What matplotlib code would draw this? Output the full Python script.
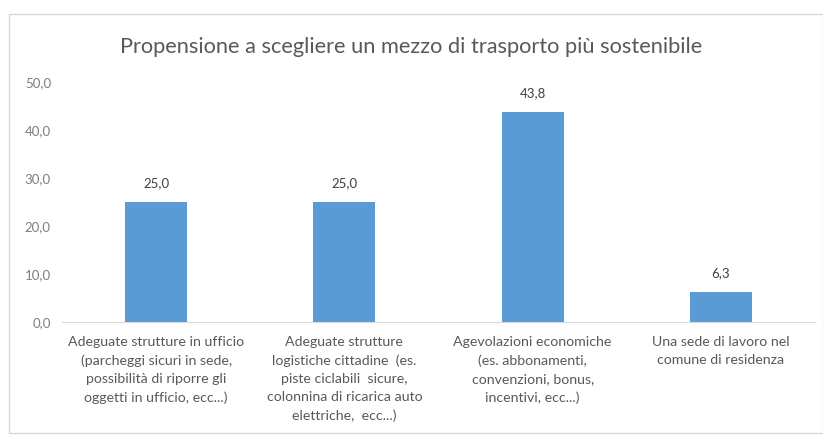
import matplotlib
matplotlib.use("Agg")
import matplotlib.pyplot as plt
from matplotlib.patches import Rectangle

categories = [
    "Adeguate strutture in ufficio\n(parcheggi sicuri in sede,\npossibilità di riporre gli\noggetti in ufficio, ecc...)",
    "Adeguate strutture\nlogistiche cittadine  (es.\npiste ciclabili  sicure,\ncolonnina di ricarica auto\nelettriche,  ecc...)",
    "Agevolazioni economiche\n(es. abbonamenti,\nconvenzioni, bonus,\nincentivi, ecc...)",
    "Una sede di lavoro nel\ncomune di residenza",
]
values = [25.0, 25.0, 43.8, 6.3]
yticks = [0, 10, 20, 30, 40, 50]
title = "Propensione a scegliere un mezzo di trasporto più sostenibile"

plt.rcParams['font.family'] = ['Lato', 'DejaVu Sans']
W, H = 823, 437
fig = plt.figure(figsize=(W/100, H/100), dpi=100)
fig.patch.set_facecolor('white')

# outer chart border
fig.add_artist(Rectangle((9/W, 1-433/H), (W-9)/W, (433-14)/H, transform=fig.transFigure,
                         fill=False, edgecolor='#d9d9d9', linewidth=1))

ax = fig.add_axes([62/W, 1-322/H, (815-62)/W, (322-82)/H])
x = range(len(values))
bars = ax.bar(x, values, width=0.33, color='#5b9bd5')
ax.set_xlim(-0.5, len(values)-0.5)
ax.set_ylim(0, 50)
ax.set_yticks(yticks)
ax.set_yticklabels([f"{v:.1f}".replace('.', ',') for v in yticks], color='#7f7f7f', fontsize=9.5)
ax.set_xticks(list(x))
ax.set_xticklabels(categories, color='#595959', fontsize=10.2, linespacing=1.6, va='top')
ax.tick_params(axis='both', length=0)
ax.tick_params(axis='y', pad=8)
ax.tick_params(axis='x', pad=10)
for s in ['top', 'right', 'left']:
    ax.spines[s].set_visible(False)
ax.spines['bottom'].set_color('#d9d9d9')
for b, v in zip(bars, values):
    ax.annotate(f"{v:.1f}".replace('.', ','), (b.get_x()+b.get_width()/2, v),
                xytext=(0, 9), textcoords='offset points', ha='center', va='bottom',
                fontsize=9.5, color='#404040')
fig.text(0.5, 1-47/H, title, ha='center', va='center', fontsize=15.7, color='#595959')
fig.savefig('out.png', dpi=100)
